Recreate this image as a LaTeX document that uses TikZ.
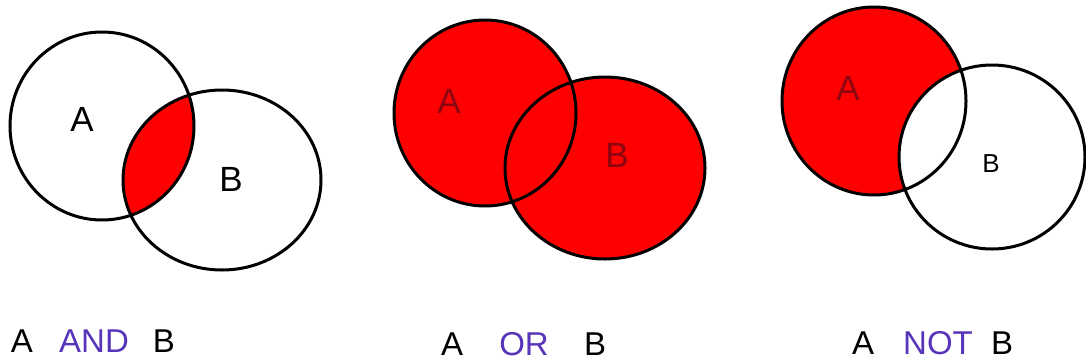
\documentclass[tikz,border=0pt]{standalone}
\usepackage{fontspec}
\setmainfont{Liberation Sans}
\definecolor{opblue}{RGB}{88,52,186}
\definecolor{setred}{RGB}{255,0,0}
\definecolor{darkred}{RGB}{140,5,15}
\begin{document}
\begin{tikzpicture}[
  x=1pt,
  y=-1pt,
  set/.style={draw=black, line width=3pt},
  lbl/.style={font=\fontsize{35}{38}\selectfont, inner sep=0pt},
  word/.style={font=\fontsize{33}{36}\selectfont, inner sep=0pt, anchor=base},
  op/.style={word, text=opblue}
]
\useasboundingbox (0,0) rectangle (1086,362);

% A AND B
\begin{scope}
  \clip (102,126) ellipse [x radius=92, y radius=94];
  \fill[setred] (222,180) ellipse [x radius=99, y radius=90];
\end{scope}
\draw[set] (102,126) ellipse [x radius=92, y radius=94];
\draw[set] (222,180) ellipse [x radius=99, y radius=90];
\node[lbl] (andA) at (82,119) {A};
\node[lbl] (andB) at (231,179) {B};

% A OR B
\fill[setred] (485,113) ellipse [x radius=91, y radius=93];
\fill[setred] (605,168) ellipse [x radius=100, y radius=91];
\draw[set] (485,113) ellipse [x radius=91, y radius=93];
\draw[set] (605,168) ellipse [x radius=100, y radius=91];
\node[lbl, text=darkred] (orA) at (449,101) {A};
\node[lbl, text=darkred] (orB) at (617,155) {B};

% A NOT B
\fill[setred] (874,101) ellipse [x radius=92, y radius=94];
\begin{scope}
  \clip (874,101) ellipse [x radius=92, y radius=94];
  \fill[white] (992,157) ellipse [x radius=93, y radius=92];
\end{scope}
\draw[set] (874,101) ellipse [x radius=92, y radius=94];
\draw[set] (992,157) ellipse [x radius=93, y radius=92];
\node[lbl, text=darkred] (notA) at (848,88) {A};
\node[lbl, font=\fontsize{26}{28}\selectfont] (notB) at (991,164) {B};

% captions
\node[word] (c1a) at (22,352) {A};
\node[op]   (c1o) at (94,352) {AND};
\node[word] (c1b) at (164,352) {B};

\node[word] (c2a) at (452,355) {A};
\node[op]   (c2o) at (524,355) {OR};
\node[word] (c2b) at (595,355) {B};

\node[word] (c3a) at (863,354) {A};
\node[op]   (c3o) at (938,354) {NOT};
\node[word] (c3b) at (1002,354) {B};
\end{tikzpicture}
\end{document}
